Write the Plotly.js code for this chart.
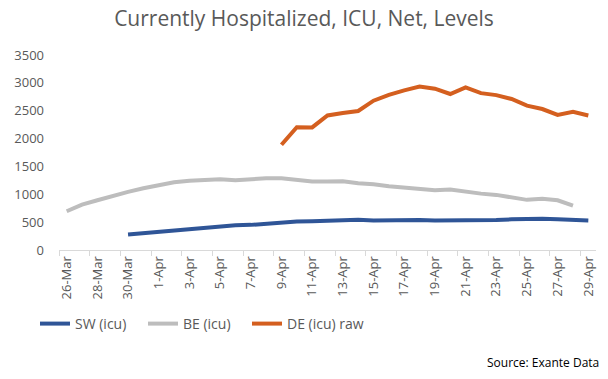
<!DOCTYPE html>
<html>
<head>
<meta charset="utf-8">
<script src="https://cdn.plot.ly/plotly-3.0.1.min.js"></script>
<style>html,body{margin:0;padding:0;background:#fff;}#chart{width:608px;height:379px;}</style>
</head>
<body>
<div id="chart"></div>
<script>
const dates = ["26-Mar","27-Mar","28-Mar","29-Mar","30-Mar","31-Mar",
  "1-Apr","2-Apr","3-Apr","4-Apr","5-Apr","6-Apr","7-Apr","8-Apr","9-Apr","10-Apr",
  "11-Apr","12-Apr","13-Apr","14-Apr","15-Apr","16-Apr","17-Apr","18-Apr","19-Apr","20-Apr",
  "21-Apr","22-Apr","23-Apr","24-Apr","25-Apr","26-Apr","27-Apr","28-Apr","29-Apr"];

const swIcu = [null,null,null,null,278,301,319,355,375,385,415,445,451,475,499,510,
  517,529,540,545,530,535,540,540,530,530,530,535,540,550,560,560,550,545,530];

const beIcu = [695,815,893,977,1043,1108,1162,1215,1245,1258,1269,1251,1276,1287,1287,1251,
  1228,1228,1233,1197,1180,1144,1126,1090,1072,1085,1043,1012,989,953,900,918,893,797,null];

const deIcuRaw = [null,null,null,null,null,null,null,null,null,null,null,null,null,null,
  1890,2205,2200,2415,2460,2495,2680,2785,2865,2935,2895,2800,2920,2815,2780,2710,
  2590,2530,2425,2480,2415];

const seriesNames = ["SW (icu)","BE (icu)","DE (icu) raw"];
const yTicks = [0,500,1000,1500,2000,2500,3000,3500];
const colors = ["#2F5597","#BDBDBD","#D45F1F"];
const legendIds = ["legend","legend2","legend3"];
const legendX = [35, 143, 247];

const traces = [swIcu, beIcu, deIcuRaw].map((vals, k) => ({
  x: dates, y: vals, name: seriesNames[k], type: "scatter", mode: "lines",
  line: {color: colors[k], width: 4}, connectgaps: false, hoverinfo: "none",
  legend: legendIds[k]
}));

const layout = {
  width: 608, height: 379,
  paper_bgcolor: "#fff", plot_bgcolor: "#fff",
  margin: {l: 59, r: 12, t: 55, b: 128.5},
  font: {family: "Open Sans, sans-serif", color: "#595959"},
  title: {text: "Currently Hospitalized, ICU, Net, Levels", x: 0.5, xanchor: "center",
    y: 0.952, yanchor: "middle", font: {size: 21, color: "#595959", family: "Open Sans, sans-serif"}},
  xaxis: {type: "category", categoryorder: "array", categoryarray: dates,
    range: [-0.5, 34.5], tickmode: "linear", tick0: 0, dtick: 2,
    tickson: "boundaries", ticks: "outside", ticklen: 5, tickcolor: "#D9D9D9",
    tickangle: -90, tickfont: {size: 13, color: "#595959"},
    showline: true, linecolor: "#D9D9D9", linewidth: 1, showgrid: false, zeroline: false, fixedrange: true},
  yaxis: {range: [0, 3500], tickmode: "array", tickvals: yTicks, ticktext: yTicks.map(String),
    showgrid: false, zeroline: false, showline: false, ticks: "",
    tickfont: {size: 13, color: "#595959"}, ticklabelstandoff: 14, fixedrange: true},
  showlegend: true,
  annotations: [{text: "Source: Exante Data", xref: "paper", yref: "paper",
    x: 1.01, xanchor: "right", y: -(363 - 250.5) / (250.5 - 55), yanchor: "middle",
    showarrow: false, font: {size: 12, color: "#000"}}]
};

legendIds.forEach((id, k) => {
  layout[id] = {orientation: "h", xref: "container", yref: "container", x: legendX[k] / 608,
    xanchor: "left", y: 1 - 324 / 379, yanchor: "middle",
    font: {size: 14, color: "#595959"}, itemclick: false, itemdoubleclick: false,
    bgcolor: "rgba(0,0,0,0)"};
});

Plotly.newPlot("chart", traces, layout, {displayModeBar: false, staticPlot: true});
</script>
</body>
</html>
